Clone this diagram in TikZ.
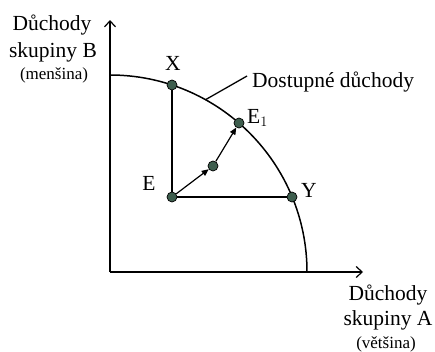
\documentclass[tikz,border=0pt]{standalone}
\usepackage{fontspec}
\setmainfont{Liberation Serif}
\usetikzlibrary{arrows.meta,positioning,calc}
\definecolor{dotgreen}{HTML}{3E5E4E}
\begin{document}
\begin{tikzpicture}[
  x=1pt,y=-1pt,
  font=\fontsize{21.5}{24}\selectfont,
  >={Straight Barb[length=6pt,width=11pt,line width=1.2pt]},
  axis/.style={->,line width=1.3pt},
  frontier/.style={line width=1.5pt},
  guide/.style={line width=1.3pt},
  move/.style={-{Triangle[length=7pt,width=6pt]},line width=1.2pt},
  dot/.style={circle,draw=black,line width=0.7pt,fill=dotgreen,minimum size=10pt,inner sep=0pt},
  lab/.style={inner sep=0pt,anchor=base},
  small/.style={lab,font=\fontsize{17}{19}\selectfont},
]
\useasboundingbox (0,0) rectangle (435,351);

% origin and radius of the frontier
\coordinate (O) at (110,272);
\def\R{197pt}

% ---------------- axes ----------------
\coordinate (ytip) at (110,20);
\coordinate (xtip) at (363,272);
\draw[axis] (O) -- (ytip);
\draw[axis] (O) -- (xtip);

\node[lab] (yl1) at (52,30) {Důchody};
\node[lab] (yl2) at (53,57) {skupiny B};
\node[small] (yl3) at (54,79) {(menšina)};
\node[lab] (xl1) at (388,300) {Důchody};
\node[lab] (xl2) at (388,325) {skupiny A};
\node[small] (xl3) at (386,348) {(většina)};

% ---------------- frontier ----------------
\draw[frontier] (O) ++(90:\R) arc[start angle=90,end angle=0,radius=\R];
\coordinate (touch) at ($(O)+(61:\R)$);
\coordinate (lead) at (247,76);
\draw[guide] (touch) -- (lead);
\node[lab,anchor=base west] (avail) at (252,87) {Dostupné důchody};

% ---------------- points ----------------
\node[dot] (E)  at (172,197) {};
\node[dot] (X)  at (172,85)  {};
\node[dot] (Y)  at (292,197) {};
\node[dot] (M)  at (213,166) {};
\node[dot] (E1) at (239,123) {};

\node[lab] (Xl)  at (173,70)  {X};
\node[lab] (El)  at (149,190) {E};
\node[lab] (Yl)  at (309,197) {Y};
\node[lab,anchor=base west] (E1l) at (247,123) {E$_1$};

% ---------------- lines ----------------
\draw[guide] (E) -- (X);
\draw[guide] (E) -- (Y);
\draw[move] (E) -- (M);
\draw[move] (M) -- (E1);

\end{tikzpicture}
\end{document}
